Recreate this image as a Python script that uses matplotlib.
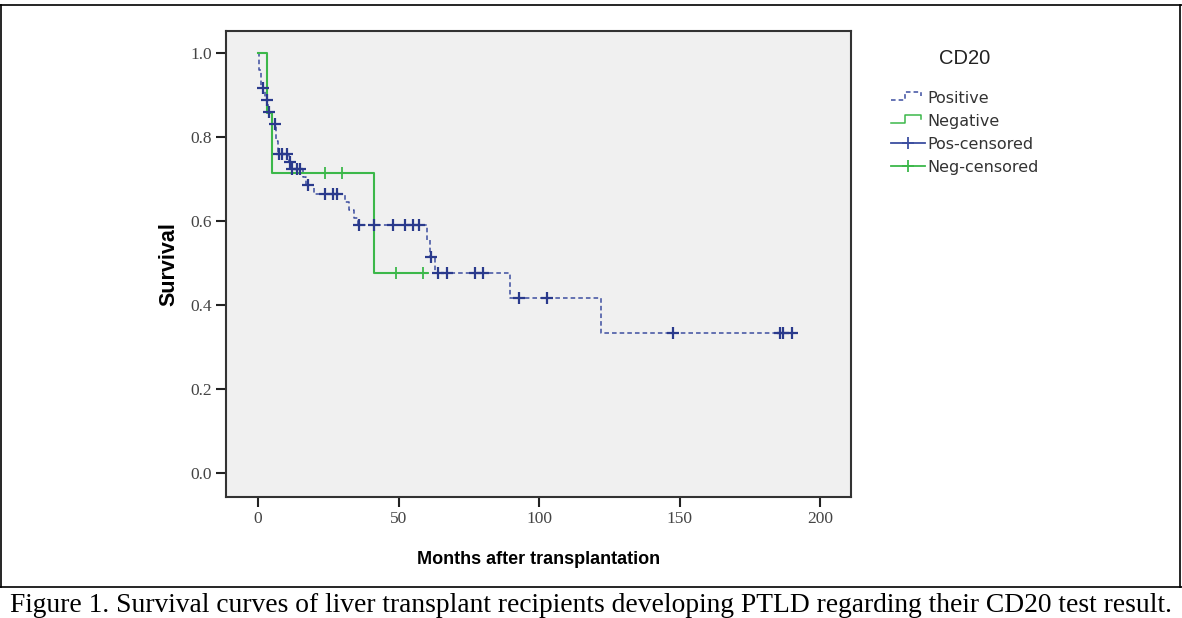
import numpy as np
import matplotlib
matplotlib.use('Agg')
import matplotlib.pyplot as plt
from matplotlib.lines import Line2D
from matplotlib.legend_handler import HandlerBase

# Kaplan-Meier steps: event time (months) and survival after it
pos_event_t = [0.5, 1.0, 2.5, 3.5, 5.0, 6.5, 7.0, 11.0, 12.0, 16.0, 17.0, 20.0,
               31.0, 32.5, 34.2, 35.5, 60.0, 61.2, 63.0, 89.7, 122.0]
pos_event_s = [0.958, 0.916, 0.888, 0.860, 0.831, 0.790, 0.760, 0.741, 0.723, 0.705,
               0.686, 0.664, 0.646, 0.626, 0.608, 0.590, 0.555, 0.515, 0.475, 0.416, 0.334]
pos_censor_t = [1.9, 3.1, 4.0, 6.0, 7.5, 8.6, 10.2, 11.4, 12.2, 13.7, 14.9, 17.9,
                23.8, 26.8, 28.0, 36.1, 41.3, 47.9, 52.3, 55.3, 57.4, 61.5,
                64.2, 67.1, 77.2, 80.2, 93.0, 102.7, 147.8, 185.8, 186.7, 189.9]
pos_end = 191.0

neg_event_t = [3.1, 5.0, 41.3]
neg_event_s = [0.857, 0.714, 0.476]
neg_censor_t = [23.8, 30.0, 49.0, 58.8]
neg_end = 60.0

x_ticks = [0, 50, 100, 150, 200]
y_ticks = [0.0, 0.2, 0.4, 0.6, 0.8, 1.0]

c_pos = '#3c4ea0'
c_pos_mark = '#2a3a8c'
c_neg = '#3cb84a'


def step_xy(ev_t, ev_s, end):
    xs = [0.0] + list(ev_t) + [end]
    ys = [1.0] + list(ev_s) + [ev_s[-1]]
    return xs, ys


def surv_at(ev_t, ev_s, t):
    idx = np.searchsorted(ev_t, t, side='right')
    levels = np.concatenate([[1.0], ev_s])
    return levels[idx]


class StepHandler(HandlerBase):
    def __init__(self, ls, **kw):
        super().__init__(**kw)
        self.ls = ls

    def create_artists(self, legend, orig, xd, yd, w, h, fontsize, trans):
        px = np.array([0, 0.42, 0.42, 0.88, 0.88]) * w - xd
        py = np.array([0.25, 0.25, 0.95, 0.95, 0.6]) * h - yd
        ln = Line2D(px, py, color=orig.get_color(), lw=1.1, ls=self.ls, transform=trans)
        return [ln]


fig = plt.figure(figsize=(11.82, 6.18), dpi=100)
W, H = 1182, 618
ax = fig.add_axes([226 / W, 1 - 497 / H, 625 / W, 466 / H])
ax.set_facecolor('#f0f0f0')

xs, ys = step_xy(pos_event_t, pos_event_s, pos_end)
ax.step(xs, ys, where='post', color=c_pos, lw=1.1, ls=(0, (3, 2)))
xs, ys = step_xy(neg_event_t, neg_event_s, neg_end)
ax.step(xs, ys, where='post', color=c_neg, lw=1.5)

ax.plot(pos_censor_t, surv_at(pos_event_t, pos_event_s, pos_censor_t), ls='none',
        marker='+', ms=8, mew=1.6, color=c_pos_mark)
ax.plot(neg_censor_t, surv_at(neg_event_t, neg_event_s, neg_censor_t), ls='none',
        marker='+', ms=8, mew=1.3, color=c_neg)

ax.set_xlim(-11.4, 211.0)
ax.set_ylim(-0.057, 1.052)
ax.set_xticks(x_ticks)
ax.set_yticks(y_ticks)
ax.set_xticklabels([str(v) for v in x_ticks], fontfamily='Liberation Serif', fontsize=12.5, color='#444444')
ax.set_yticklabels(['%.1f' % v for v in y_ticks], fontfamily='Liberation Serif', fontsize=12.5, color='#444444')
ax.tick_params(length=7, width=1.5, color='#222222', pad=3)
for sp in ax.spines.values():
    sp.set_linewidth(1.5)
    sp.set_color('#333333')

ax.set_xlabel('Months after transplantation', fontfamily='Liberation Sans', fontweight='bold',
              fontsize=13, labelpad=17)
ax.set_ylabel('Survival', fontfamily='Liberation Sans', fontweight='bold', fontsize=15.5, labelpad=8)

# legend
fig.text(965 / W, 1 - 58 / H, 'CD20', ha='center', va='center', fontfamily='Liberation Sans',
         fontsize=14.5, color='#222222')
handles = [Line2D([], [], color=c_pos), Line2D([], [], color=c_neg),
           Line2D([], [], color=c_pos, marker='+', ms=9, mew=1.3, lw=1.3),
           Line2D([], [], color=c_neg, marker='+', ms=9, mew=1.3, lw=1.3)]
labels = ['Positive', 'Negative', 'Pos-censored', 'Neg-censored']
leg = fig.legend(handles, labels, loc='upper left', bbox_to_anchor=(891 / W, 1 - 91 / H),
                 frameon=False, fontsize=11.5, handlelength=2.1, handletextpad=0.15,
                 labelspacing=0.5, borderpad=0, borderaxespad=0,
                 handler_map={handles[0]: StepHandler((0, (3, 2))), handles[1]: StepHandler('-')})
for t in leg.get_texts():
    t.set_color('#333333')

# frame lines of the figure box
fig.add_artist(Line2D([0, 1], [1 - 5 / H, 1 - 5 / H], transform=fig.transFigure, color='black', lw=1.2))
fig.add_artist(Line2D([0, 1], [1 - 587 / H, 1 - 587 / H], transform=fig.transFigure, color='black', lw=1.2))
fig.add_artist(Line2D([1 / W, 1 / W], [1 - 5 / H, 1 - 587 / H], transform=fig.transFigure, color='black', lw=1.2))
fig.add_artist(Line2D([1 - 2 / W, 1 - 2 / W], [1 - 5 / H, 1 - 587 / H], transform=fig.transFigure, color='black', lw=1.2))

fig.text(0.5, 1 - 605 / H,
         'Figure 1. Survival curves of liver transplant recipients developing PTLD regarding their CD20 test result.',
         ha='center', va='center', fontfamily='Liberation Serif', fontsize=19.8)

fig.savefig('out.png', dpi=100)
